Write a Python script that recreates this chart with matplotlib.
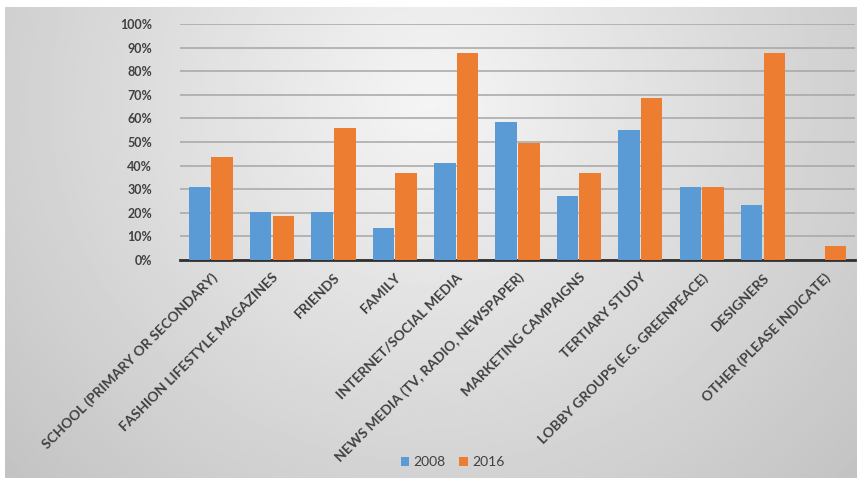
import numpy as np
import matplotlib
matplotlib.use('Agg')
import matplotlib.pyplot as plt
from matplotlib.ticker import PercentFormatter

categories = [
    'SCHOOL (PRIMARY OR SECONDARY)',
    'FASHION LIFESTYLE MAGAZINES',
    'FRIENDS',
    'FAMILY',
    'INTERNET/SOCIAL MEDIA',
    'NEWS MEDIA (TV, RADIO, NEWSPAPER)',
    'MARKETING CAMPAIGNS',
    'TERTIARY STUDY',
    'LOBBY GROUPS (E.G. GREENPEACE)',
    'DESIGNERS',
    'OTHER (PLEASE INDICATE)',
]
values_2008 = [0.31, 0.205, 0.205, 0.135, 0.41, 0.585, 0.27, 0.55, 0.31, 0.235, 0.0]
values_2016 = [0.435, 0.185, 0.56, 0.37, 0.875, 0.495, 0.37, 0.685, 0.31, 0.875, 0.06]
series_names = ['2008', '2016']

BLUE = '#5B9BD5'
ORANGE = '#ED7D31'
TEXT = '#404040'

plt.rcParams['font.family'] = ['Lato', 'DejaVu Sans']

fig = plt.figure(figsize=(8.57, 4.78), dpi=100)
fig.patch.set_facecolor('white')

# grey gradient panel behind the chart
bg = fig.add_axes([5 / 857, 0, 852 / 857, 471 / 478])
yy, xx = np.mgrid[0:1:200j, 0:1:300j]
r = np.sqrt(((xx - 0.5) / 0.7) ** 2 + ((yy - 0.2) / 1.2) ** 2)
shade = 0.96 - 0.2 * np.clip(r, 0, 1)
bg.imshow(shade, cmap='gray', vmin=0, vmax=1, aspect='auto', extent=[0, 1, 1, 0])
bg.set_axis_off()

ax = fig.add_axes([180 / 857, 1 - 260 / 478, 675 / 857, 236 / 478])
ax.set_facecolor('none')

x = np.arange(len(categories))
w = 0.35
ax.bar(x - 0.185, values_2008, w, color=BLUE, label=series_names[0], zorder=3)
ax.bar(x + 0.185, values_2016, w, color=ORANGE, label=series_names[1], zorder=3)

ax.set_ylim(0, 1.0)
ax.set_xlim(-0.5, len(categories) - 0.5)
ax.set_yticks(np.arange(0, 1.01, 0.1))
ax.yaxis.set_major_formatter(PercentFormatter(1.0, decimals=0))
ax.grid(axis='y', color='#a6a6a6', linewidth=1.1, zorder=0)
ax.set_axisbelow(True)

for s in ['top', 'right', 'left']:
    ax.spines[s].set_visible(False)
ax.spines['bottom'].set_color('#303030')
ax.spines['bottom'].set_linewidth(2)

ax.tick_params(axis='y', length=0, labelsize=9, labelcolor=TEXT, pad=20)
ax.tick_params(axis='x', length=0, pad=8)
ax.set_xticks(x)
ax.set_xticklabels(categories, rotation=45, ha='right', va='top',
                   rotation_mode='anchor', fontsize=10, color=TEXT)
for lbl in ax.get_yticklabels() + ax.get_xticklabels():
    lbl.set_fontweight('bold')

leg = fig.legend(loc='center', bbox_to_anchor=(0.528, 0.033), ncol=2,
                 frameon=False, fontsize=10, handlelength=0.6, handleheight=0.6,
                 columnspacing=1.0, handletextpad=0.3)
for t in leg.get_texts():
    t.set_color(TEXT)

fig.savefig('out.png', dpi=100)
